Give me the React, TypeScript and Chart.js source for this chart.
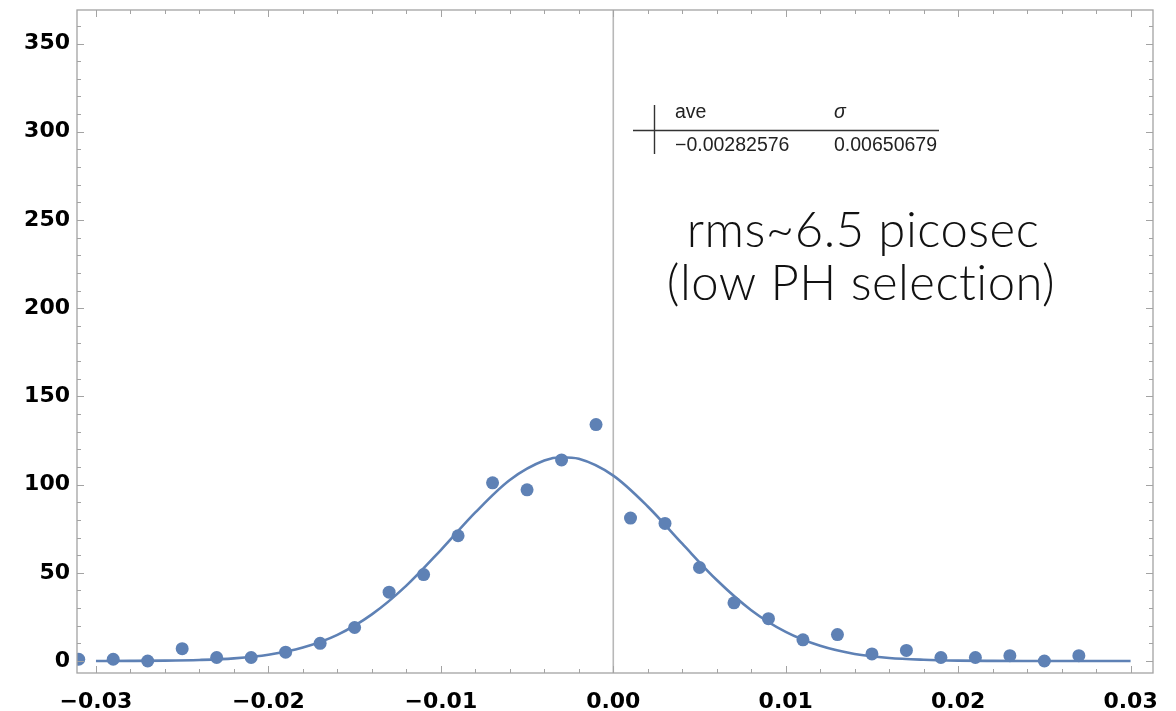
import React, { useEffect, useRef } from "react";
import { Chart, registerables } from "chart.js";

Chart.register(...registerables);

// ---- data ----
const pointX = [
  -0.031, -0.029, -0.027, -0.025, -0.023, -0.021, -0.019, -0.017, -0.015, -0.013,
  -0.011, -0.009, -0.007, -0.005, -0.003, -0.001, 0.001, 0.003, 0.005, 0.007,
  0.009, 0.011, 0.013, 0.015, 0.017, 0.019, 0.021, 0.023, 0.025, 0.027,
];
const pointCounts = [
  1, 1, 0, 7, 2, 2, 5, 10, 19, 39,
  49, 71, 101, 97, 114, 134, 81, 78, 53, 33,
  24, 12, 15, 4, 6, 2, 2, 3, 0, 3,
];
const fitX = [
  -0.03, -0.028, -0.026, -0.024, -0.022, -0.02, -0.018, -0.016, -0.014, -0.012,
  -0.01, -0.008, -0.006, -0.004, -0.003, -0.002, 0.0, 0.002, 0.004, 0.006,
  0.008, 0.01, 0.012, 0.014, 0.016, 0.018, 0.02, 0.022, 0.024, 0.026,
  0.028, 0.03,
];
const fitY = [
  0.02, 0.06, 0.2, 0.6, 1.5, 3.5, 7.6, 14.8, 26.4, 42.7,
  62.9, 84.2, 102.6, 113.6, 115.5, 114.6, 105.1, 87.6, 66.5, 45.9,
  28.8, 16.5, 8.6, 4.0, 1.7, 0.7, 0.24, 0.08, 0.02, 0,
  0, 0,
];
const xTicks = [-0.03, -0.02, -0.01, 0.0, 0.01, 0.02, 0.03];
const yTicks = [0, 50, 100, 150, 200, 250, 300, 350];
const tableHeader = ["ave", "σ"];
const tableValues = ["−0.00282576", "0.00650679"];
const noteLines = ["rms~6.5 picosec", "(low PH selection)"];

const BLUE = "#5E81B5";
const FRAME = "#a3a3a3";

const fmtX = (v: number) => {
  const s = Math.abs(v) < 1e-9 ? "0.00" : v.toFixed(2);
  return s.replace("-", "\u2212");
};

const framePlugin = {
  id: "frameTicks",
  beforeDatasetsDraw(chart: any) {
    const { ctx, chartArea, scales } = chart;
    const x0 = scales.x.getPixelForValue(0);
    ctx.save();
    ctx.strokeStyle = "#b8b8b8";
    ctx.lineWidth = 1.6;
    ctx.beginPath();
    ctx.moveTo(x0, chartArea.top);
    ctx.lineTo(x0, chartArea.bottom);
    ctx.stroke();
    ctx.restore();
  },
  afterDraw(chart: any) {
    const { ctx, chartArea: a, scales } = chart;
    const xs = scales.x;
    const ys = scales.y;
    ctx.save();
    ctx.strokeStyle = FRAME;
    ctx.lineWidth = 1.3;
    ctx.strokeRect(a.left, a.top, a.right - a.left, a.bottom - a.top);
    const major = 7;
    const minor = 4;
    ctx.lineWidth = 1;
    ctx.beginPath();
    // x ticks (bottom & top)
    for (let i = -15; i <= 15; i++) {
      const v = i * 0.002;
      if (v < xs.min || v > xs.max) continue;
      const px = Math.round(xs.getPixelForValue(v)) + 0.5;
      const len = i % 5 === 0 ? major : minor;
      ctx.moveTo(px, a.bottom);
      ctx.lineTo(px, a.bottom - len);
      ctx.moveTo(px, a.top);
      ctx.lineTo(px, a.top + len);
    }
    // y ticks (left & right)
    for (let i = 0; i <= 40; i++) {
      const v = i * 10;
      if (v < ys.min || v > ys.max) continue;
      const py = Math.round(ys.getPixelForValue(v)) + 0.5;
      const len = i % 5 === 0 ? major : minor;
      ctx.moveTo(a.left, py);
      ctx.lineTo(a.left + len, py);
      ctx.moveTo(a.right, py);
      ctx.lineTo(a.right - len, py);
    }
    ctx.stroke();

    // table annotation
    ctx.strokeStyle = "#333";
    ctx.lineWidth = 1.4;
    ctx.beginPath();
    ctx.moveTo(654.5, 105);
    ctx.lineTo(654.5, 154);
    ctx.moveTo(633, 130.5);
    ctx.lineTo(939, 130.5);
    ctx.stroke();
    ctx.fillStyle = "#222";
    ctx.textBaseline = "alphabetic";
    ctx.textAlign = "left";
    ctx.font = "19.5px 'Liberation Sans', Arial, sans-serif";
    ctx.fillText(tableHeader[0], 675, 118);
    ctx.fillText(tableValues[0], 675, 151);
    ctx.fillText(tableValues[1], 834, 151);
    ctx.font = "italic 19.5px 'Liberation Sans', Arial, sans-serif";
    ctx.fillText(tableHeader[1], 834, 118);

    // note text
    ctx.fillStyle = "#111";
    ctx.textAlign = "center";
    ctx.font = "300 49px Lato, Roboto, 'Open Sans', sans-serif";
    try {
      (ctx as any).letterSpacing = "0.5px";
    } catch (e) {}
    ctx.fillText(noteLines[0], 863, 247);
    ctx.fillText(noteLines[1], 861, 300);
    ctx.restore();
  },
};

export default function App() {
  const ref = useRef<HTMLCanvasElement | null>(null);
  useEffect(() => {
    if (!ref.current) return;
    const chart = new Chart(ref.current, {
      type: "scatter",
      data: {
        datasets: [
          {
            label: "data",
            data: pointX.map((x, i) => ({ x, y: pointCounts[i] })),
            backgroundColor: BLUE,
            borderWidth: 0,
            pointRadius: 6.5,
            showLine: false,
          },
          {
            label: "fit",
            data: fitX.map((x, i) => ({ x, y: fitY[i] })),
            borderColor: BLUE,
            borderWidth: 2.6,
            pointRadius: 0,
            showLine: true,
            cubicInterpolationMode: "monotone",
            fill: false,
          },
        ],
      },
      options: {
        animation: false,
        responsive: true,
        maintainAspectRatio: false,
        layout: { padding: { left: 0, right: 23, top: 10, bottom: 0 } },
        plugins: { legend: { display: false }, tooltip: { enabled: false } },
        scales: {
          x: {
            type: "linear",
            min: -0.0311,
            max: 0.0313,
            grid: { display: false, drawTicks: false },
            border: { display: false },
            afterBuildTicks: (s: any) => {
              s.ticks = xTicks.map((v) => ({ value: v }));
            },
            afterFit: (s: any) => {
              s.height = 38;
              s.paddingLeft = 0;
              s.paddingRight = 0;
            },
            ticks: {
              autoSkip: false,
              maxRotation: 0,
              padding: 16,
              color: "#000",
              font: { family: "'DejaVu Sans', sans-serif", weight: "bold", size: 22 },
              callback: (v: any) => fmtX(Number(v)),
            },
          },
          y: {
            type: "linear",
            min: -6.8,
            max: 369,
            grid: { display: false, drawTicks: false },
            border: { display: false },
            afterBuildTicks: (s: any) => {
              s.ticks = yTicks.map((v) => ({ value: v }));
            },
            afterFit: (s: any) => {
              s.width = 77;
              s.paddingTop = 0;
              s.paddingBottom = 0;
            },
            ticks: {
              autoSkip: false,
              padding: 7,
              color: "#000",
              font: { family: "'DejaVu Sans', sans-serif", weight: "bold", size: 22 },
              callback: (v: any) => String(v),
            },
          },
        },
      },
      plugins: [framePlugin],
    });
    return () => chart.destroy();
  }, []);
  return (
    <div style={{ position: "absolute", left: 0, top: 0, width: 1176, height: 711, background: "#fff" }}>
      <canvas ref={ref} />
    </div>
  );
}
